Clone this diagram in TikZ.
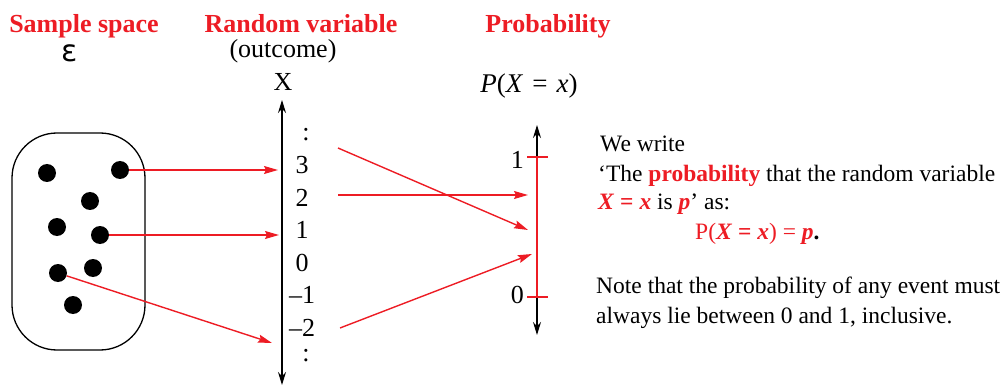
\documentclass[tikz,border=0pt]{standalone}
\usepackage{fontspec}
\setmainfont{Liberation Serif}
\newfontfamily\epsfont{DejaVu Sans}
\usepackage{xcolor}
\usetikzlibrary{arrows.meta,positioning,calc}
\definecolor{probred}{RGB}{237,28,36}
\tikzset{
  heading/.style={font=\fontsize{26}{30}\selectfont\bfseries, text=probred, inner sep=0pt, anchor=base},
  lefttxt/.style={font=\fontsize{26}{30}\selectfont, inner sep=0pt},
  righttxt/.style={font=\fontsize{23.5}{28}\selectfont, inner sep=0pt, anchor=base west},
  sample/.style={circle, fill=black, minimum size=18pt, inner sep=0pt},
  redarrow/.style={probred, line width=1.4pt, -{Stealth[length=14pt,width=8pt,inset=2pt]}},
  axis/.style={black, line width=1.3pt, {Stealth[length=13pt,width=8pt]}-{Stealth[length=13pt,width=8pt]}}
}
\begin{document}
\begin{tikzpicture}[x=1pt,y=-1pt]
  \useasboundingbox (0,0) rectangle (1002,385);

  % Headings
  \node[heading] (hsample) at (84,33) {Sample space};
  \node[heading] (hrv) at (301,33) {Random variable};
  \node[heading] (hprob) at (548,33) {Probability};
  \node[lefttxt, anchor=base, font=\epsfont\fontsize{30}{34}\selectfont] (eps) at (70,62) {ε};
  \node[lefttxt, anchor=base] (outc) at (283,58) {(outcome)};
  \node[lefttxt, anchor=base] (xlab) at (283,91) {X};
  \node[lefttxt, anchor=base, font=\fontsize{27}{30}\selectfont] (pxx) at (529,93)
    {\textit{P}(\textit{X}\,\,=\,\,\textit{x})};

  % Sample space
  \draw[line width=1.3pt, rounded corners=45pt] (12,133) rectangle (145,350);
  \node[sample] (d1) at (47,173) {};
  \node[sample] (d2) at (120,170) {};
  \node[sample] (d3) at (90,201) {};
  \node[sample] (d4) at (57,227) {};
  \node[sample] (d5) at (100,235) {};
  \node[sample] (d6) at (58,273) {};
  \node[sample] (d7) at (93,268) {};
  \node[sample] (d8) at (73,305) {};

  % Random variable axis
  \coordinate (xtop) at (282,100);
  \coordinate (xbot) at (282,385);
  \draw[axis] (xtop) -- (xbot);
  \node[lefttxt] (vtop) at (306,135) {:};
  \foreach \v/\t in {3/3,2/2,1/1,0/0,-1/–1,-2/–2} {
    \node[lefttxt] (v\v) at (302,{165+32.6*(3-\v)}) {\t};
  }
  \node[lefttxt] (vbot) at (306,356) {:};

  % Outcomes to values
  \coordinate (in3) at (278,170);
  \coordinate (in1) at (279,235);
  \coordinate (inm2) at (272,343);
  \draw[redarrow] (d2.east) -- (in3);
  \draw[redarrow] (d5.east) -- (in1);
  \draw[redarrow] (d6) -- (inm2);

  % Probability axis
  \coordinate (ptop) at (537,125);
  \coordinate (pbot) at (537,335);
  \coordinate (pone) at (537,157);
  \coordinate (pzero) at (537,297);
  \draw[axis] (ptop) -- (pbot);
  \draw[probred, line width=1.8pt] (pone) -- (pzero);
  \draw[probred, line width=1.5pt] ($(pone)+(-10,0)$) -- ($(pone)+(11,0)$);
  \draw[probred, line width=1.5pt] ($(pzero)+(-10,0)$) -- ($(pzero)+(11,0)$);
  \node[lefttxt, anchor=east] (lone) at (524,160) {1};
  \node[lefttxt, anchor=east] (lzero) at (524,295) {0};

  % Values to probabilities
  \coordinate (o3) at (338,148);
  \coordinate (o2) at (338,195);
  \coordinate (om2) at (340,328);
  \coordinate (t3) at (528,230);
  \coordinate (t2) at (528,195);
  \coordinate (tm2) at (532,254);
  \draw[redarrow] (o3) -- (t3);
  \draw[redarrow] (o2) -- (t2);
  \draw[redarrow] (om2) -- (tm2);

  % Explanation
  \node[righttxt] (w1) at (600,152) {We write};
  \node[righttxt] (w2) at (598,182) {‘The \textcolor{probred}{\textbf{probability}} that the random variable};
  \node[righttxt] (w3) at (598,210) {\textcolor{probred}{\textbf{\textit{X}} \textbf{=} \textbf{\textit{x}}} is \textcolor{probred}{\textbf{\textit{p}}}’ as:};
  \node[righttxt] (w4) at (695,239) {\textcolor{probred}{P(\textbf{\textit{X}} \textbf{=} \textbf{\textit{x}}) = \textbf{\textit{p}}}\textbf{.}};
  \node[righttxt] (w5) at (596,293) {Note that the probability of any event must};
  \node[righttxt] (w6) at (596,323) {always lie between 0 and 1, inclusive.};
\end{tikzpicture}
\end{document}
